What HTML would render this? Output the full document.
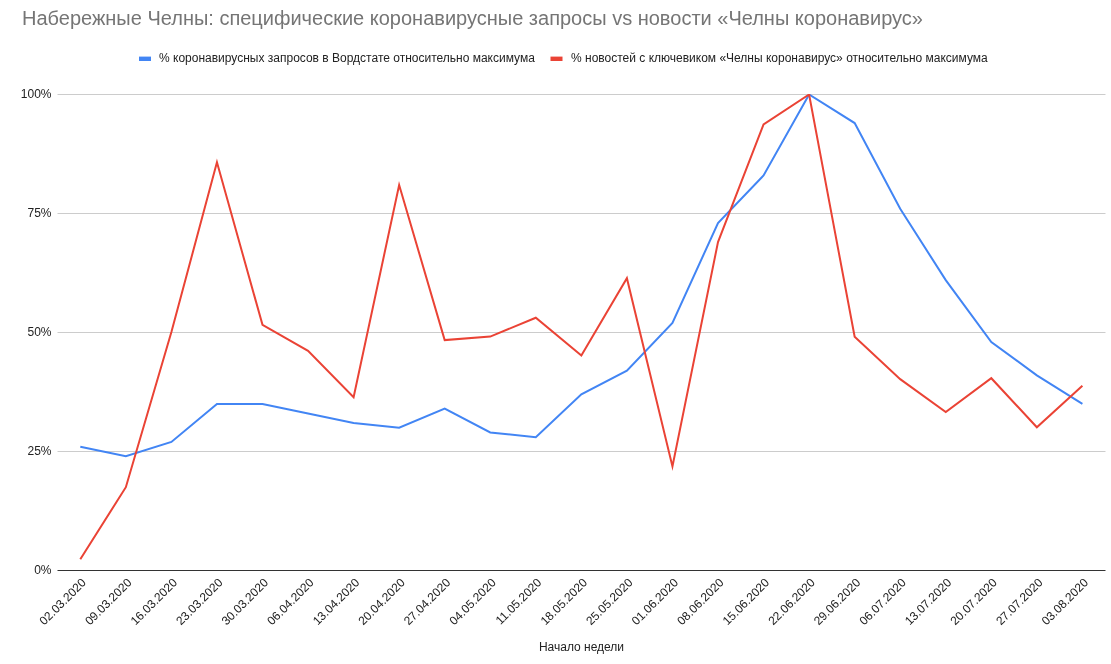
<!DOCTYPE html>
<html><head><meta charset="utf-8">
<style>
html,body{margin:0;padding:0;background:#fff;}
svg{display:block;}
text{font-family:"Liberation Sans",Arial,sans-serif;}
.ax{font-size:12px;fill:#222222;}
.lg{font-size:12px;fill:#222222;}
.tt{font-size:20px;fill:#757575;}
</style></head><body>
<svg width="1111" height="664" viewBox="0 0 1111 664">
<rect width="1111" height="664" fill="#ffffff"/>
<text x="22" y="25" class="tt">Набережные Челны: специфические коронавирусные запросы vs новости «Челны коронавирус»</text>
<rect x="139" y="56.6" width="12" height="4.4" fill="#4285f4"/>
<text x="159" y="62" class="lg">% коронавирусных запросов в Вордстате относительно максимума</text>
<rect x="550.5" y="56.6" width="12" height="4.4" fill="#ea4335"/>
<text x="571" y="62" class="lg">% новостей с ключевиком «Челны коронавирус» относительно максимума</text>
<rect x="57.5" y="451.0" width="1048.0" height="1" fill="#cccccc"/>
<rect x="57.5" y="332.0" width="1048.0" height="1" fill="#cccccc"/>
<rect x="57.5" y="213.0" width="1048.0" height="1" fill="#cccccc"/>
<rect x="57.5" y="94.0" width="1048.0" height="1" fill="#cccccc"/>

<rect x="57.5" y="570" width="1048.0" height="1" fill="#333333"/>
<text x="51.5" y="573.5" text-anchor="end" class="ax">0%</text>
<text x="51.5" y="454.5" text-anchor="end" class="ax">25%</text>
<text x="51.5" y="335.5" text-anchor="end" class="ax">50%</text>
<text x="51.5" y="216.5" text-anchor="end" class="ax">75%</text>
<text x="51.5" y="97.5" text-anchor="end" class="ax">100%</text>

<defs><clipPath id="ca"><rect x="57.5" y="94" width="1048.0" height="477"/></clipPath></defs>
<g clip-path="url(#ca)">
<polyline points="80.30,446.74 125.85,456.26 171.40,441.98 216.95,403.90 262.50,403.90 308.05,413.42 353.60,422.94 399.15,427.70 444.70,408.66 490.25,432.46 535.80,437.22 581.35,394.38 626.90,370.58 672.45,322.98 718.00,223.02 763.55,175.42 809.10,94.50 854.65,123.06 900.20,208.74 945.75,280.14 991.30,342.02 1036.85,375.34 1082.40,403.90" fill="none" stroke="#4285f4" stroke-width="2" stroke-miterlimit="10"/>
<polyline points="80.30,559.22 125.85,487.20 171.40,332.02 216.95,162.33 262.50,324.88 308.05,350.83 353.60,397.24 399.15,184.94 444.70,340.12 490.25,336.55 535.80,317.74 581.35,355.59 626.90,278.24 672.45,466.49 718.00,242.06 763.55,124.49 809.10,94.50 854.65,336.78 900.20,379.15 945.75,411.99 991.30,378.20 1036.85,427.22 1082.40,385.81" fill="none" stroke="#ea4335" stroke-width="2" stroke-miterlimit="10"/>
</g>
<text transform="translate(86.80,583.4) rotate(-45)" text-anchor="end" class="ax">02.03.2020</text>
<text transform="translate(132.35,583.4) rotate(-45)" text-anchor="end" class="ax">09.03.2020</text>
<text transform="translate(177.90,583.4) rotate(-45)" text-anchor="end" class="ax">16.03.2020</text>
<text transform="translate(223.45,583.4) rotate(-45)" text-anchor="end" class="ax">23.03.2020</text>
<text transform="translate(269.00,583.4) rotate(-45)" text-anchor="end" class="ax">30.03.2020</text>
<text transform="translate(314.55,583.4) rotate(-45)" text-anchor="end" class="ax">06.04.2020</text>
<text transform="translate(360.10,583.4) rotate(-45)" text-anchor="end" class="ax">13.04.2020</text>
<text transform="translate(405.65,583.4) rotate(-45)" text-anchor="end" class="ax">20.04.2020</text>
<text transform="translate(451.20,583.4) rotate(-45)" text-anchor="end" class="ax">27.04.2020</text>
<text transform="translate(496.75,583.4) rotate(-45)" text-anchor="end" class="ax">04.05.2020</text>
<text transform="translate(542.30,583.4) rotate(-45)" text-anchor="end" class="ax">11.05.2020</text>
<text transform="translate(587.85,583.4) rotate(-45)" text-anchor="end" class="ax">18.05.2020</text>
<text transform="translate(633.40,583.4) rotate(-45)" text-anchor="end" class="ax">25.05.2020</text>
<text transform="translate(678.95,583.4) rotate(-45)" text-anchor="end" class="ax">01.06.2020</text>
<text transform="translate(724.50,583.4) rotate(-45)" text-anchor="end" class="ax">08.06.2020</text>
<text transform="translate(770.05,583.4) rotate(-45)" text-anchor="end" class="ax">15.06.2020</text>
<text transform="translate(815.60,583.4) rotate(-45)" text-anchor="end" class="ax">22.06.2020</text>
<text transform="translate(861.15,583.4) rotate(-45)" text-anchor="end" class="ax">29.06.2020</text>
<text transform="translate(906.70,583.4) rotate(-45)" text-anchor="end" class="ax">06.07.2020</text>
<text transform="translate(952.25,583.4) rotate(-45)" text-anchor="end" class="ax">13.07.2020</text>
<text transform="translate(997.80,583.4) rotate(-45)" text-anchor="end" class="ax">20.07.2020</text>
<text transform="translate(1043.35,583.4) rotate(-45)" text-anchor="end" class="ax">27.07.2020</text>
<text transform="translate(1088.90,583.4) rotate(-45)" text-anchor="end" class="ax">03.08.2020</text>

<text x="581.5" y="651" text-anchor="middle" class="ax">Начало недели</text>
</svg>
</body></html>
